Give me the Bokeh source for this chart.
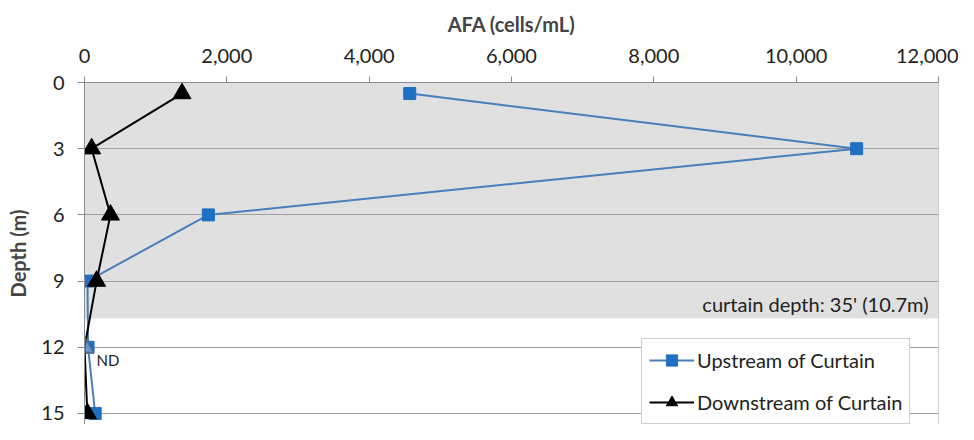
from bokeh.plotting import figure
from bokeh.models import (Range1d, NumeralTickFormatter, FixedTicker, Span, Label,
                          Legend, LegendItem)
from bokeh.embed import file_html
from bokeh.resources import INLINE

# ---- data ----
depth = [0.5, 3, 6, 9, 12, 15]
upstream = [4570, 10850, 1740, 42, 50, 150]
downstream = [1370, 100, 365, 170, 0, 40]
down_nd = [False, False, False, False, True, False]
curtain_depth = 10.7
x_ticks = [0, 2000, 4000, 6000, 8000, 10000, 12000]
y_ticks = [0, 3, 6, 9, 12, 15]

FONT = "Lato"
FS = "20px"

p = figure(width=958, height=424, output_backend="svg", toolbar_location=None,
           x_axis_location="above",
           x_range=Range1d(0, 12000), y_range=Range1d(15.5, 0),
           min_border_left=84, min_border_right=20, min_border_top=82, min_border_bottom=0)
p.outline_line_color = None
p.background_fill_color = "white"
p.border_fill_color = "white"

# shaded region above curtain depth
p.quad(left=[x_ticks[0]], right=[x_ticks[-1]], top=[0], bottom=[curtain_depth],
       fill_color="#e0e0e0", line_color=None, level="underlay")

p.xgrid.visible = False
p.ygrid.ticker = FixedTicker(ticks=y_ticks)
p.ygrid.grid_line_color = "#a0a0a0"
p.ygrid.grid_line_width = 1
p.ygrid.level = "underlay"

p.add_layout(Span(location=12000, dimension="height", line_color="#a0a0a0", line_width=1))

# axes
xa = p.xaxis[0]
xa.ticker = FixedTicker(ticks=x_ticks)
xa.formatter = NumeralTickFormatter(format="0,0")
xa.axis_label = "AFA (cells/mL)"
xa.axis_label_text_font = FONT
xa.axis_label_text_font_style = "bold"
xa.axis_label_text_font_size = FS
xa.axis_label_standoff = 10
xa.major_label_text_font = FONT
xa.major_label_text_font_size = FS
xa.major_label_text_color = "#222222"
xa.major_label_standoff = 14
xa.major_tick_out = 6
xa.major_tick_in = 0
xa.minor_tick_out = 0
xa.minor_tick_in = 0
xa.axis_line_color = "#8c8c8c"
xa.major_tick_line_color = "#8c8c8c"

ya = p.yaxis[0]
ya.ticker = FixedTicker(ticks=y_ticks)
ya.axis_label = "Depth (m)"
ya.axis_label_text_font = FONT
ya.axis_label_text_font_style = "bold"
ya.axis_label_text_font_size = FS
ya.axis_label_standoff = 8
ya.major_label_text_font = FONT
ya.major_label_text_font_size = FS
ya.major_label_text_color = "#222222"
ya.major_label_standoff = 13
ya.major_tick_out = 7
ya.major_tick_in = 0
ya.minor_tick_out = 0
ya.minor_tick_in = 0
ya.axis_line_color = "#8c8c8c"
ya.major_tick_line_color = "#8c8c8c"

# upstream series
up_line = p.line(upstream, depth, line_color="#4A7EBB", line_width=2)
up_pts = p.scatter(upstream, depth, marker="square", size=12,
                   fill_color="#1F6FC2", line_color="#1F6FC2")

# downstream series
dn_line = p.line(downstream, depth, line_color="black", line_width=2)
dx = [v for v, nd in zip(downstream, down_nd) if not nd]
dy = [d for d, nd in zip(depth, down_nd) if not nd]
ndx = [v for v, nd in zip(downstream, down_nd) if nd]
ndy = [d for d, nd in zip(depth, down_nd) if nd]
dn_pts = p.scatter(dx, dy, marker="triangle", size=18, fill_color="black", line_color="black")
p.scatter(ndx, ndy, marker="triangle", size=18, fill_color="white", line_color="#666666",
          fill_alpha=0.3, line_width=1.2)

p.add_layout(Label(x=ndx[0], y=ndy[0], text="ND", x_offset=12, y_offset=-22,
                   text_font=FONT, text_font_size="15px", text_color="#222222"))

p.add_layout(Label(x=12000, y=curtain_depth, text="curtain depth: 35' (10.7m)",
                   x_offset=-10, y_offset=3, text_align="right", text_baseline="bottom",
                   text_font=FONT, text_font_size=FS, text_color="#222222"))

legend = Legend(items=[LegendItem(label="Upstream of Curtain", renderers=[up_line, up_pts]),
                       LegendItem(label="Downstream of Curtain", renderers=[dn_line, dn_pts])],
                location=(557, 0), orientation="vertical")
legend.label_text_font = FONT
legend.label_text_font_size = FS
legend.label_text_color = "#222222"
legend.glyph_width = 45
legend.glyph_height = 28
legend.label_height = 28
legend.spacing = 14
legend.padding = 7
legend.margin = 0
legend.label_standoff = 3
legend.border_line_color = "#a0a0a0"
legend.background_fill_color = "white"
legend.background_fill_alpha = 1
p.add_layout(legend, "center")

open("out.html", "w").write(file_html(p, INLINE))
